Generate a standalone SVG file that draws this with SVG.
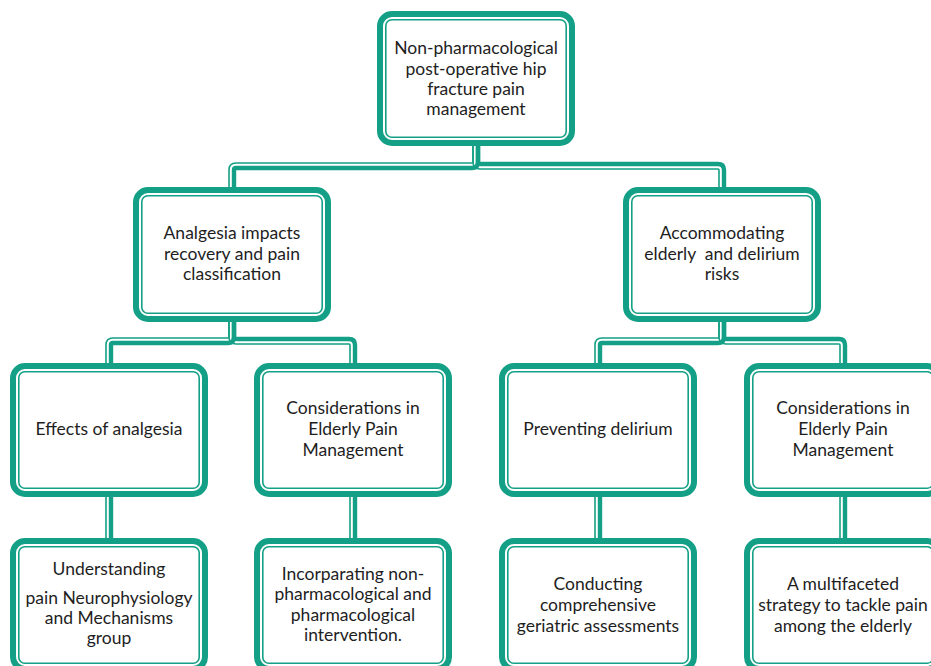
<svg xmlns="http://www.w3.org/2000/svg" width="931" height="666" viewBox="0 0 931 666">
<style>
.o{fill:#fff;stroke:#14a086;stroke-width:6}
.i{fill:none;stroke:#14a086;stroke-width:1.6}
.tk{fill:none;stroke:#14a086;stroke-width:4.4}
.tn{fill:none;stroke:#14a086;stroke-width:1.6}
text{font-family:Lato,"Liberation Sans",sans-serif;font-size:17.5px;fill:#1e1e1e;text-anchor:middle}
</style>
<rect width="931" height="666" fill="#fff"/>
<g id="connectors">
<path class="tk" d="M478,146 V162 Q478,168 472,168 H236 Q234,168 234,170 V190"/>
<path class="tn" d="M473,146 V162 Q473,163 472,163 H236 Q229,163 229,170 V190"/>
<path class="tk" d="M478,146 V166 Q478,164 480,164 H718 Q724,164 724,170 V190"/>
<path class="tn" d="M473,146 V162 Q473,169 480,169 H718 Q719,169 719,170 V190"/>
<path class="tk" d="M234,320 V337 Q234,343 228,343 H113 Q111,343 111,345 V366"/>
<path class="tn" d="M229,320 V337 Q229,338 228,338 H113 Q106,338 106,345 V366"/>
<path class="tk" d="M234,320 V341 Q234,339 236,339 H349 Q355,339 355,345 V366"/>
<path class="tn" d="M229,320 V337 Q229,344 236,344 H349 Q350,344 350,345 V366"/>
<path class="tk" d="M724,320 V337 Q724,343 718,343 H602 Q600,343 600,345 V366"/>
<path class="tn" d="M719,320 V337 Q719,338 718,338 H602 Q595,338 595,345 V366"/>
<path class="tk" d="M724,320 V341 Q724,339 726,339 H839 Q845,339 845,345 V366"/>
<path class="tn" d="M719,320 V337 Q719,344 726,344 H839 Q840,344 840,345 V366"/>
<path class="tk" d="M111,495 V541 M355,495 V541 M600,495 V541 M845,495 V541"/>
<path class="tn" d="M106,495 V541 M350,495 V541 M595,495 V541 M840,495 V541"/>
</g>
<g id="root">
<rect class="o" x="380" y="14" width="192" height="129" rx="12"/>
<rect class="i" x="385.8" y="19.8" width="180.4" height="117.4" rx="6"/>
<text x="476" y="54">Non-pharmacological</text>
<text x="476" y="75">post-operative hip</text>
<text x="476" y="95">fracture pain</text>
<text x="476" y="115">management</text>
</g>
<g id="analgesia">
<rect class="o" x="136" y="190" width="192" height="129" rx="12"/>
<rect class="i" x="141.8" y="195.8" width="180.4" height="117.4" rx="6"/>
<text x="232" y="239">Analgesia impacts</text>
<text x="232" y="260">recovery and pain</text>
<text x="232" y="280">classification</text>
</g>
<g id="accommodating">
<rect class="o" x="626" y="190" width="192" height="129" rx="12"/>
<rect class="i" x="631.8" y="195.8" width="180.4" height="117.4" rx="6"/>
<text x="722" y="239">Accommodating</text>
<text x="722" y="260" xml:space="preserve">elderly  and delirium</text>
<text x="722" y="280">risks</text>
</g>
<g id="effects">
<rect class="o" x="13" y="366" width="192" height="128" rx="12"/>
<rect class="i" x="18.8" y="371.8" width="180.4" height="116.4" rx="6"/>
<text x="109" y="435">Effects of analgesia</text>
</g>
<g id="considerations-left">
<rect class="o" x="257" y="366" width="192" height="128" rx="12"/>
<rect class="i" x="262.8" y="371.8" width="180.4" height="116.4" rx="6"/>
<text x="353" y="414">Considerations in</text>
<text x="353" y="435">Elderly Pain</text>
<text x="353" y="456">Management</text>
</g>
<g id="preventing">
<rect class="o" x="502" y="366" width="192" height="128" rx="12"/>
<rect class="i" x="507.8" y="371.8" width="180.4" height="116.4" rx="6"/>
<text x="598" y="435">Preventing delirium</text>
</g>
<g id="considerations-right">
<rect class="o" x="747" y="366" width="192" height="128" rx="12"/>
<rect class="i" x="752.8" y="371.8" width="180.4" height="116.4" rx="6"/>
<text x="843" y="414">Considerations in</text>
<text x="843" y="435">Elderly Pain</text>
<text x="843" y="456">Management</text>
</g>
<g id="understanding">
<rect class="o" x="13" y="541" width="192" height="128" rx="12"/>
<rect class="i" x="18.8" y="546.8" width="180.4" height="116.4" rx="6"/>
<text x="109" y="575">Understanding</text>
<text x="109" y="604">pain Neurophysiology</text>
<text x="109" y="624">and Mechanisms</text>
<text x="109" y="644">group</text>
</g>
<g id="incorparating">
<rect class="o" x="257" y="541" width="192" height="128" rx="12"/>
<rect class="i" x="262.8" y="546.8" width="180.4" height="116.4" rx="6"/>
<text x="353" y="580">Incorparating non-</text>
<text x="353" y="600">pharmacological and</text>
<text x="353" y="621">pharmacological</text>
<text x="353" y="641">intervention.</text>
</g>
<g id="conducting">
<rect class="o" x="502" y="541" width="192" height="128" rx="12"/>
<rect class="i" x="507.8" y="546.8" width="180.4" height="116.4" rx="6"/>
<text x="598" y="590">Conducting</text>
<text x="598" y="611">comprehensive</text>
<text x="598" y="632">geriatric assessments</text>
</g>
<g id="multifaceted">
<rect class="o" x="747" y="541" width="192" height="128" rx="12"/>
<rect class="i" x="752.8" y="546.8" width="180.4" height="116.4" rx="6"/>
<text x="843" y="590">A multifaceted</text>
<text x="843" y="611">strategy to tackle pain</text>
<text x="843" y="632">among the elderly</text>
</g>
</svg>
